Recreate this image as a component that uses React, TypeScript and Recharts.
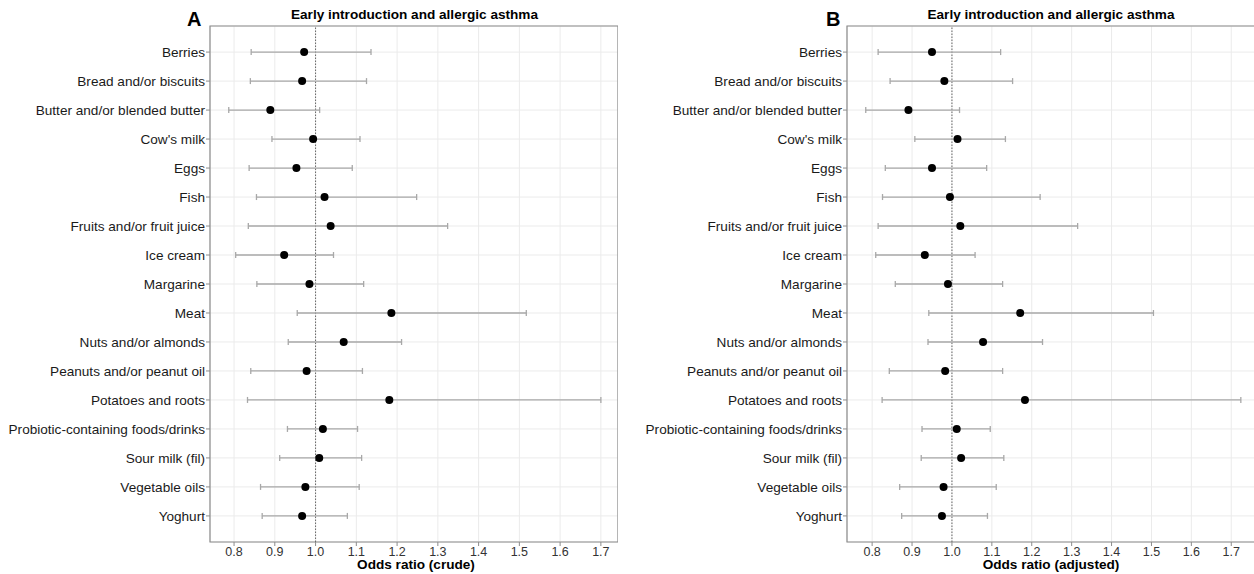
import React from 'react';
import { ScatterChart, Scatter, XAxis, YAxis, CartesianGrid, ErrorBar, ReferenceLine, ReferenceArea } from 'recharts';

const categories = [
  'Berries', 'Bread and/or biscuits', 'Butter and/or blended butter', "Cow's milk", 'Eggs', 'Fish',
  'Fruits and/or fruit juice', 'Ice cream', 'Margarine', 'Meat', 'Nuts and/or almonds',
  'Peanuts and/or peanut oil', 'Potatoes and roots', 'Probiotic-containing foods/drinks',
  'Sour milk (fil)', 'Vegetable oils', 'Yoghurt',
];

const crudeOR = [0.972, 0.967, 0.889, 0.994, 0.953, 1.022, 1.037, 0.923, 0.985, 1.186, 1.069, 0.978, 1.181, 1.018, 1.009, 0.975, 0.967];
const crudeLo = [0.842, 0.840, 0.787, 0.893, 0.837, 0.855, 0.835, 0.804, 0.856, 0.955, 0.933, 0.841, 0.833, 0.931, 0.912, 0.865, 0.869];
const crudeHi = [1.136, 1.125, 1.010, 1.109, 1.090, 1.248, 1.324, 1.044, 1.118, 1.517, 1.211, 1.115, 1.700, 1.103, 1.113, 1.107, 1.078];

const adjOR = [0.950, 0.981, 0.891, 1.014, 0.950, 0.995, 1.021, 0.932, 0.990, 1.171, 1.078, 0.983, 1.183, 1.012, 1.023, 0.979, 0.975];
const adjLo = [0.815, 0.845, 0.784, 0.907, 0.833, 0.826, 0.815, 0.809, 0.858, 0.942, 0.940, 0.843, 0.825, 0.925, 0.923, 0.869, 0.874];
const adjHi = [1.122, 1.152, 1.019, 1.134, 1.087, 1.221, 1.315, 1.058, 1.127, 1.505, 1.227, 1.127, 1.724, 1.096, 1.130, 1.111, 1.089];

const xTicks = [0.8, 0.9, 1.0, 1.1, 1.2, 1.3, 1.4, 1.5, 1.6, 1.7];
const yTicks = categories.map((_, i) => i);

const FONT = '"Liberation Sans", Arial, Helvetica, sans-serif';

function build(or: number[], lo: number[], hi: number[]) {
  return categories.map((c, i) => ({ idx: i, name: c, or: or[i], err: [or[i] - lo[i], hi[i] - or[i]] }));
}

const Dot = (p: any) => <circle cx={p.cx} cy={p.cy} r={4} fill="#000" />;

const YTick = (p: any) => (
  <text x={p.x} y={p.y} dy="0.355em" textAnchor="end" fontSize={13.6} fontFamily={FONT} fill="#1a1a1a">
    {categories[p.payload.value] ?? ''}
  </text>
);

const XTick = (p: any) => (
  <text x={p.x} y={p.y} dy="0.71em" textAnchor="middle" fontSize={12.5} fontFamily={FONT} fill="#333">
    {Number(p.payload.value).toFixed(1)}
  </text>
);

function Panel({ data, domain, width }: { data: any[]; domain: [number, number]; width: number }) {
  return (
    <ScatterChart width={width} height={574} margin={{ top: 26, right: 0, bottom: 0, left: 0 }}>
      <CartesianGrid stroke="#ebebeb" strokeWidth={1} />
      <XAxis
        type="number"
        dataKey="or"
        domain={domain}
        ticks={xTicks}
        allowDataOverflow
        height={32}
        axisLine={false}
        tickLine={{ stroke: '#8c8c8c' }}
        tickSize={4}
        tickMargin={1}
        tick={<XTick />}
        interval={0}
      />
      <YAxis
        type="number"
        dataKey="idx"
        domain={[-0.9, 16.9]}
        reversed
        ticks={yTicks}
        allowDataOverflow
        width={210}
        axisLine={false}
        tickLine={{ stroke: '#8c8c8c' }}
        tickSize={4}
        tickMargin={1}
        interval={0}
        tick={<YTick />}
      />
      <ReferenceLine x={1} stroke="#666" strokeDasharray="1.5 1.5" strokeWidth={1} />
      <Scatter data={data} isAnimationActive={false} shape={Dot}>
        <ErrorBar dataKey="err" direction="x" width={3} stroke="#a8a8a8" strokeWidth={1.3} />
      </Scatter>
      <ReferenceArea x1={domain[0]} x2={domain[1]} y1={-0.9} y2={16.9} fill="none" fillOpacity={0} stroke="#8c8c8c" strokeWidth={1.2} ifOverflow="visible" />
    </ScatterChart>
  );
}

export default function App() {
  const dataA = build(crudeOR, crudeLo, crudeHi);
  const dataB = build(adjOR, adjLo, adjHi);
  return (
    <div style={{ position: 'absolute', left: 0, top: 0, width: 1254, height: 574, overflow: 'hidden', background: '#fff' }}>
      <div style={{ position: 'absolute', left: 0, top: 0 }}>
        <Panel data={dataA} domain={[0.741, 1.742]} width={618} />
      </div>
      <div style={{ position: 'absolute', left: 637, top: 0 }}>
        <Panel data={dataB} domain={[0.737, 1.762]} width={619} />
      </div>
      <svg width={1254} height={574} style={{ position: 'absolute', left: 0, top: 0, pointerEvents: 'none' }}>
        <g fontFamily={FONT} fill="#000">
          <text x={187} y={26} fontSize={20} fontWeight="bold">A</text>
          <text x={826} y={26} fontSize={20} fontWeight="bold">B</text>
          <text x={414.5} y={18.5} fontSize={13.6} fontWeight="bold" textAnchor="middle">Early introduction and allergic asthma</text>
          <text x={1051} y={18.5} fontSize={13.6} fontWeight="bold" textAnchor="middle">Early introduction and allergic asthma</text>
          <text x={416} y={569} fontSize={13.6} fontWeight="bold" textAnchor="middle">Odds ratio (crude)</text>
          <text x={1051} y={569} fontSize={13.6} fontWeight="bold" textAnchor="middle">Odds ratio (adjusted)</text>
        </g>
      </svg>
    </div>
  );
}
